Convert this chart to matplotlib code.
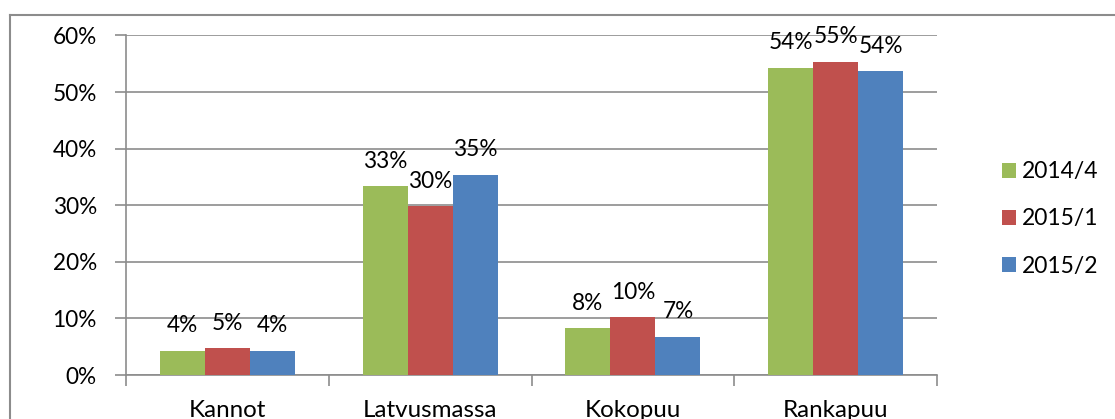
import matplotlib
matplotlib.use("Agg")
import matplotlib.pyplot as plt
from matplotlib.lines import Line2D
import numpy as np

categories = ["Kannot", "Latvusmassa", "Kokopuu", "Rankapuu"]
series_names = ["2014/4", "2015/1", "2015/2"]
v_2014_4 = [4.3, 33.4, 8.3, 54.3]
v_2015_1 = [4.7, 29.8, 10.2, 55.4]
v_2015_2 = [4.3, 35.4, 6.8, 53.7]
yticks = [0, 10, 20, 30, 40, 50, 60]

colors = ["#9BBB59", "#C0504D", "#4F81BD"]
series = [v_2014_4, v_2015_1, v_2015_2]

plt.rcParams['font.family'] = ['Lato', 'DejaVu Sans']
FS_TICK = 16.3
FS_CAT = 17.4
FS_LEG = 16.5
W, H = 1115, 419
fig = plt.figure(figsize=(W / 100, H / 100), dpi=100)
fig.patch.set_facecolor("white")

# outer chart border (left and top visible)
gray = "#8C8C8C"
fig.add_artist(Line2D([10 / W, 10 / W], [0, 1 - 14.7 / H], transform=fig.transFigure, color=gray, lw=1.5))
fig.add_artist(Line2D([10 / W, 1], [1 - 14.7 / H, 1 - 14.7 / H], transform=fig.transFigure, color=gray, lw=1.5))

left, right = 126, 937
top, bottom = 35.5, 375
ax = fig.add_axes([left / W, 1 - bottom / H, (right - left) / W, (bottom - top) / H])

x = np.arange(len(categories))
bw = 1 / 4.5
offsets = [-bw, 0, bw]
for vals, off, c, name in zip(series, offsets, colors, series_names):
    ax.bar(x + off, vals, width=bw, color=c, label=name, zorder=3)
    for xi, v in zip(x + off, vals):
        ax.annotate(f"{round(v):.0f}%", (xi, v), xytext=(0, 13.3), textcoords="offset points",
                    ha="center", va="baseline", fontsize=FS_TICK, color="black", zorder=4)

ax.set_xlim(-0.5, len(categories) - 0.5)
ax.set_ylim(0, 60)
ax.set_yticks(yticks)
ax.set_yticklabels([f"{t}%" for t in yticks])
ax.yaxis.grid(True, color=gray, lw=1.2, zorder=0)
ax.set_axisbelow(True)
ax.tick_params(axis="y", length=8, width=1.2, color=gray, pad=13, labelsize=FS_TICK)

ax.set_xticks(x)
ax.set_xticklabels(categories)
ax.set_xticks(np.arange(-0.5, len(categories), 1), minor=True)
ax.tick_params(axis="x", which="major", length=0, pad=18, labelsize=FS_CAT)
ax.tick_params(axis="x", which="minor", length=8, width=1.2, color=gray)

for s in ["top", "right"]:
    ax.spines[s].set_visible(False)
for s in ["left", "bottom"]:
    ax.spines[s].set_color(gray)
    ax.spines[s].set_linewidth(1.2)

fig.legend(loc="center left", bbox_to_anchor=(1001.5 / W, 1 - 219 / H), frameon=False,
           fontsize=FS_LEG, handlelength=0.62, handleheight=0.62, handletextpad=0.29,
           labelspacing=1.15, borderpad=0, borderaxespad=0)

fig.savefig("out.png", dpi=100, facecolor="white")
